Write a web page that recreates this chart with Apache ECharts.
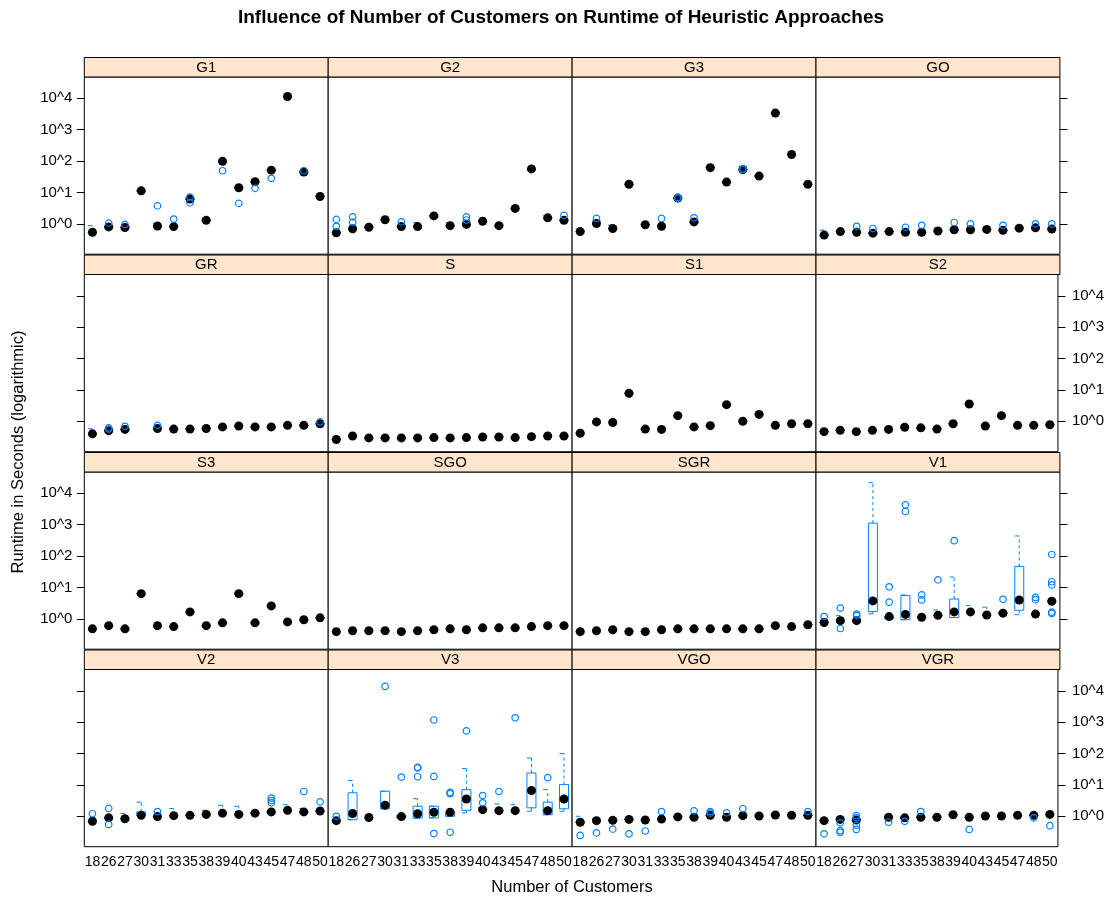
<!DOCTYPE html>
<html>
<head>
<meta charset="utf-8">
<script src="https://cdn.jsdelivr.net/npm/echarts@6/dist/echarts.min.js"></script>
<style>
html,body{margin:0;padding:0;background:#fff;}
#chart{width:1107px;height:897px;}
</style>
</head>
<body>
<div id="chart"></div>
<script>
// ---------------- DATA (values are log10 of runtime in seconds) ----------------
const CATEGORIES = ['18','26','27','30','31','33','35','38','39','40','43','45','47','48','50'];
const PANEL_NAMES = ['G1','G2','G3','GO','GR','S','S1','S2','S3','SGO','SGR','V1','V2','V3','VGO','VGR'];
const Y_TICKS = [0, 1, 2, 3, 4];
const Y_TICK_LABELS = ['10^0', '10^1', '10^2', '10^3', '10^4'];

// medians per category (null = no data)
const G1_med = [-0.27,-0.10,-0.12,1.05,-0.07,-0.09,0.79,0.11,1.99,1.15,1.34,1.71,4.06,1.65,0.87];
const G2_med = [-0.29,-0.16,-0.11,0.13,-0.09,-0.09,0.25,-0.06,-0.02,0.08,-0.06,0.49,1.75,0.19,0.11];
const G3_med = [-0.25,0.01,-0.15,1.26,-0.03,-0.08,0.82,0.06,1.79,1.33,1.73,1.52,3.53,2.21,1.26];
const GO_med = [-0.36,-0.25,-0.27,-0.30,-0.25,-0.27,-0.27,-0.23,-0.19,-0.19,-0.18,-0.21,-0.14,-0.13,-0.17];
const GR_med = [-0.40,-0.30,-0.26,null,-0.23,-0.25,-0.25,-0.23,-0.18,-0.15,-0.18,-0.18,-0.13,-0.13,-0.08];
const S_med  = [-0.58,-0.47,-0.53,-0.53,-0.53,-0.53,-0.52,-0.53,-0.52,-0.50,-0.50,-0.52,-0.49,-0.47,-0.47];
const S1_med = [-0.38,-0.02,-0.04,0.89,-0.25,-0.26,0.18,-0.18,-0.14,0.53,0.0,0.22,-0.13,-0.08,-0.08];
const S2_med = [-0.33,-0.29,-0.33,-0.29,-0.26,-0.19,-0.21,-0.25,-0.08,0.55,-0.15,0.18,-0.13,-0.13,-0.11];
const S3_med = [-0.32,-0.22,-0.32,0.80,-0.22,-0.25,0.22,-0.22,-0.13,0.80,-0.13,0.41,-0.10,-0.03,0.03];
const SGO_med = [-0.41,-0.38,-0.38,-0.38,-0.41,-0.38,-0.35,-0.32,-0.35,-0.29,-0.29,-0.29,-0.25,-0.22,-0.22];
const SGR_med = [-0.41,-0.38,-0.35,-0.41,-0.41,-0.35,-0.32,-0.32,-0.32,-0.32,-0.32,-0.32,-0.22,-0.25,-0.19];
const V1_med = [-0.12,-0.06,-0.06,0.57,0.07,0.14,0.05,0.11,0.22,0.22,0.12,0.18,0.60,0.15,0.56];
const V2_med = [-0.16,-0.05,-0.08,0.03,-0.01,0.02,0.03,0.06,0.10,0.06,0.10,0.14,0.19,0.14,0.17];
const V3_med = [-0.14,0.09,-0.04,0.35,-0.01,0.08,0.13,0.13,0.55,0.21,0.18,0.18,0.82,0.18,0.55];
const VGO_med = [-0.19,-0.14,-0.13,-0.10,-0.12,-0.09,-0.02,-0.03,0.03,-0.03,0.02,0.01,0.04,0.03,0.03];
const VGR_med = [-0.14,-0.10,-0.12,null,-0.03,-0.05,-0.03,-0.03,0.05,-0.03,0.01,0.01,0.03,0.03,0.06];

// boxes that are not collapsed: [categoryIndex, lowWhisker, Q1, Q3, highWhisker]
const G1_box = [[0,-0.27,-0.27,-0.27,-0.06],[4,-0.07,-0.07,-0.07,0.01],[7,0.11,0.11,0.11,0.17]];
const G2_box = [[5,-0.09,-0.09,-0.09,0.04],[7,-0.06,-0.06,-0.06,0.03],[13,0.19,0.19,0.19,0.27]];
const G3_box = [[0,-0.25,-0.25,-0.25,-0.16],[2,-0.15,-0.15,-0.15,-0.04],[4,-0.03,-0.03,-0.03,0.0]];
const GO_box = [[0,-0.36,-0.36,-0.36,-0.20],[7,-0.23,-0.23,-0.23,-0.14]];
const GR_box = [[0,-0.40,-0.40,-0.40,-0.24]];
const S_box = [];
const S1_box = [];
const S2_box = [];
const S3_box = [];
const SGO_box = [];
const SGR_box = [];
const V1_box = [[1,-0.06,-0.06,-0.06,0.10],[3,0.16,0.23,3.05,4.34],[4,0.0,0.0,0.07,0.07],[5,-0.03,-0.03,0.74,0.76],
                [7,0.11,0.11,0.11,0.28],[8,0.04,0.04,0.63,1.33],[9,0.22,0.22,0.22,0.42],[10,0.12,0.12,0.12,0.37],
                [12,0.13,0.27,1.67,2.64]];
const V2_box = [[2,-0.08,-0.08,-0.08,0.09],[3,0.03,0.03,0.14,0.45],[5,0.02,0.02,0.02,0.25],[7,0.06,0.06,0.06,0.19],
                [8,0.10,0.10,0.10,0.35],[9,0.06,0.06,0.06,0.32],[12,0.19,0.19,0.19,0.37],[13,0.14,0.14,0.14,0.25]];
const V3_box = [[1,-0.11,-0.11,0.75,1.14],[3,0.24,0.24,0.80,0.80],[4,-0.05,-0.05,0.03,0.03],[5,-0.06,-0.06,0.32,0.56],
                [6,-0.05,-0.05,0.32,0.32],[7,0.0,0.0,0.13,0.13],[8,0.11,0.19,0.85,1.52],[9,0.21,0.21,0.21,0.28],
                [10,0.18,0.18,0.18,0.39],[11,0.18,0.18,0.18,0.37],[12,0.16,0.27,1.38,1.86],[13,0.05,0.05,0.45,0.85],
                [14,0.16,0.24,1.01,2.0]];
const VGO_box = [[0,-0.19,-0.19,-0.19,0.0],[1,-0.14,-0.14,-0.14,-0.08],[11,0.01,0.01,0.01,0.07],[13,0.03,0.03,0.03,0.08]];
const VGR_box = [];

// outliers: [categoryIndex, value]
const G1_out = [[1,0.02],[2,-0.02],[4,0.57],[5,0.15],[6,0.85],[6,0.67],[8,1.69],[9,0.65],[10,1.13],[11,1.45],[13,1.69]];
const G2_out = [[0,0.14],[0,-0.08],[1,0.22],[1,0.05],[4,0.06],[8,0.22],[8,0.12],[14,0.27]];
const G3_out = [[1,0.17],[5,0.17],[6,0.82],[6,0.84],[7,0.19],[10,1.73],[10,1.75]];
const GO_out = [[2,-0.08],[3,-0.15],[5,-0.11],[6,-0.05],[8,0.04],[9,0.0],[11,-0.05],[13,0.0],[14,0.0]];
const GR_out = [[1,-0.21],[1,-0.25],[2,-0.16],[4,-0.13],[14,-0.02]];
const S_out = [];
const S1_out = [];
const S2_out = [];
const S3_out = [];
const SGO_out = [];
const SGR_out = [];
const V1_out = [[0,0.07],[1,0.34],[1,-0.31],[2,0.15],[2,0.10],[4,1.02],[4,0.53],[5,3.63],[5,3.42],[6,0.76],[6,0.60],
                [7,1.24],[8,2.49],[11,0.62],[13,0.68],[13,0.61],[14,2.05],[14,1.18],[14,1.08],[14,0.21],[14,0.17]];
const V2_out = [[0,0.08],[1,0.25],[1,-0.26],[4,0.15],[11,0.58],[11,0.50],[11,0.43],[13,0.79],[14,0.46]];
const V3_out = [[0,0.0],[3,4.14],[4,1.25],[5,1.56],[5,1.54],[5,1.26],[6,3.07],[6,1.27],[6,-0.55],[7,0.76],[7,0.72],
                [7,-0.51],[8,2.72],[9,0.66],[9,0.43],[10,0.79],[11,3.14],[13,1.23]];
const VGO_out = [[0,-0.61],[1,-0.53],[2,-0.41],[3,-0.56],[4,-0.47],[5,0.15],[7,0.17],[8,0.15],[8,0.10],[9,0.11],[10,0.24],[14,0.15]];
const VGR_out = [[0,-0.56],[1,-0.21],[1,-0.46],[1,-0.51],[2,0.02],[2,-0.05],[2,-0.29],[2,-0.42],[4,-0.19],[5,-0.16],
                 [6,0.15],[9,-0.42],[13,-0.05],[14,-0.30]];

const PANEL_DATA = {
  G1:[G1_med,G1_box,G1_out], G2:[G2_med,G2_box,G2_out], G3:[G3_med,G3_box,G3_out], GO:[GO_med,GO_box,GO_out],
  GR:[GR_med,GR_box,GR_out], S:[S_med,S_box,S_out], S1:[S1_med,S1_box,S1_out], S2:[S2_med,S2_box,S2_out],
  S3:[S3_med,S3_box,S3_out], SGO:[SGO_med,SGO_box,SGO_out], SGR:[SGR_med,SGR_box,SGR_out], V1:[V1_med,V1_box,V1_out],
  V2:[V2_med,V2_box,V2_out], V3:[V3_med,V3_box,V3_out], VGO:[VGO_med,VGO_box,VGO_out], VGR:[VGR_med,VGR_box,VGR_out]
};

// ---------------- LAYOUT ----------------
const FONT = '"Liberation Sans", Arial, Helvetica, sans-serif';
const BLUE = '#0080ff';
const COL_LEFT = [84.3, 328.2, 572.1, 816];
const PANEL_W = 243.9;
const STRIP_TOP = [57.5, 255, 452.5, 650];
const STRIP_H = 19.5;
const PANEL_H = 177.2;
const Y_MIN = -0.97, Y_MAX = 4.68;

const chart = echarts.init(document.getElementById('chart'), null, {renderer: 'canvas'});

function renderBox(params, api) {
  const c = api.value(0);
  const lo = api.coord([c, api.value(1)]);
  const q1 = api.coord([c, api.value(2)]);
  const q3 = api.coord([c, api.value(3)]);
  const hi = api.coord([c, api.value(4)]);
  const x = q1[0], hw = 4.5;
  const solid = {stroke: BLUE, lineWidth: 1, fill: null};
  const dashed = {stroke: BLUE, lineWidth: 1, lineDash: [3, 3], fill: null};
  return {
    type: 'group',
    children: [
      {type: 'rect', shape: {x: x - hw, y: q3[1], width: 2 * hw, height: q1[1] - q3[1]}, style: solid},
      {type: 'line', shape: {x1: x, y1: q3[1], x2: x, y2: hi[1]}, style: dashed},
      {type: 'line', shape: {x1: x, y1: q1[1], x2: x, y2: lo[1]}, style: dashed},
      {type: 'line', shape: {x1: x - hw, y1: hi[1], x2: x, y2: hi[1]}, style: solid},
      {type: 'line', shape: {x1: x - hw, y1: lo[1], x2: x, y2: lo[1]}, style: solid}
    ]
  };
}

const grids = [], xAxes = [], yAxes = [], series = [], graphics = [];

PANEL_NAMES.forEach((name, i) => {
  const row = Math.floor(i / 4), col = i % 4;
  const [med, boxes, outs] = PANEL_DATA[name];
  const top = STRIP_TOP[row] + STRIP_H;
  grids.push({
    left: COL_LEFT[col], top: top, width: PANEL_W, height: PANEL_H,
    show: true, borderColor: '#000', borderWidth: 1, backgroundColor: '#fff', containLabel: false
  });
  xAxes.push({
    type: 'category', gridIndex: i, data: CATEGORIES, boundaryGap: true,
    axisLine: {show: false}, axisTick: {show: false}, splitLine: {show: false},
    axisLabel: {show: row === 3, interval: 0, fontSize: 14, color: '#000', fontFamily: FONT, margin: 8}
  });
  const isLeft = col === 0, isRight = col === 3;
  const showLabels = (isLeft && row % 2 === 0) || (isRight && row % 2 === 1);
  yAxes.push({
    type: 'value', gridIndex: i, min: Y_MIN, max: Y_MAX,
    show: isLeft || isRight,
    position: isRight ? 'right' : 'left',
    splitLine: {show: false},
    axisLine: {show: false},
    axisTick: {show: true, length: 7.5, customValues: Y_TICKS, lineStyle: {color: '#000', width: 1}},
    axisLabel: {
      show: showLabels, customValues: Y_TICKS, fontSize: 15, color: '#000', fontFamily: FONT,
      margin: isRight ? 14 : 12,
      formatter: v => Y_TICK_LABELS[Y_TICKS.indexOf(Math.round(v))]
    }
  });

  // build box data: explicit boxes, otherwise collapsed at the median
  const boxMap = {};
  boxes.forEach(b => { boxMap[b[0]] = b; });
  const boxData = [];
  med.forEach((m, c) => {
    if (m === null) return;
    if (boxMap[c]) boxData.push(boxMap[c]);
    else boxData.push([c, m, m, m, m]);
  });
  series.push({
    type: 'custom', xAxisIndex: i, yAxisIndex: i, renderItem: renderBox,
    encode: {x: 0, y: [1, 2, 3, 4]}, data: boxData, z: 2, silent: true, clip: false
  });
  series.push({
    type: 'scatter', xAxisIndex: i, yAxisIndex: i, symbol: 'circle', symbolSize: 9,
    itemStyle: {color: '#000', opacity: 1}, z: 3, silent: true,
    data: med.map((m, c) => m === null ? null : [c, m]).filter(d => d)
  });
  series.push({
    type: 'scatter', xAxisIndex: i, yAxisIndex: i, symbol: 'circle', symbolSize: 6.5,
    itemStyle: {color: 'rgba(255,255,255,0)', borderColor: BLUE, borderWidth: 1.2, opacity: 1}, z: 4, silent: true,
    data: outs
  });

  // strip
  graphics.push({
    type: 'rect', z: 10,
    shape: {x: COL_LEFT[col], y: STRIP_TOP[row], width: PANEL_W, height: STRIP_H},
    style: {fill: '#ffe5cc', stroke: '#000', lineWidth: 1}
  });
  graphics.push({
    type: 'text', z: 11,
    x: COL_LEFT[col] + PANEL_W / 2, y: STRIP_TOP[row] + STRIP_H / 2 + 0.5,
    style: {text: name, fill: '#000', font: '15px ' + FONT, align: 'center', verticalAlign: 'middle'}
  });
});

graphics.push({
  type: 'text', x: 561, y: 18,
  style: {text: 'Influence of Number of Customers on Runtime of Heuristic Approaches', fill: '#000',
          font: 'bold 19px ' + FONT, align: 'center', verticalAlign: 'middle'}
});
graphics.push({
  type: 'text', x: 572, y: 887,
  style: {text: 'Number of Customers', fill: '#000', font: '16.5px ' + FONT, align: 'center', verticalAlign: 'middle'}
});
graphics.push({
  type: 'text', x: 18, y: 452, rotation: Math.PI / 2,
  style: {text: 'Runtime in Seconds (logarithmic)', fill: '#000', font: '16.5px ' + FONT, align: 'center', verticalAlign: 'middle'}
});

chart.setOption({
  animation: false,
  backgroundColor: '#fff',
  grid: grids,
  xAxis: xAxes,
  yAxis: yAxes,
  series: series,
  graphic: graphics
});
</script>
</body>
</html>
